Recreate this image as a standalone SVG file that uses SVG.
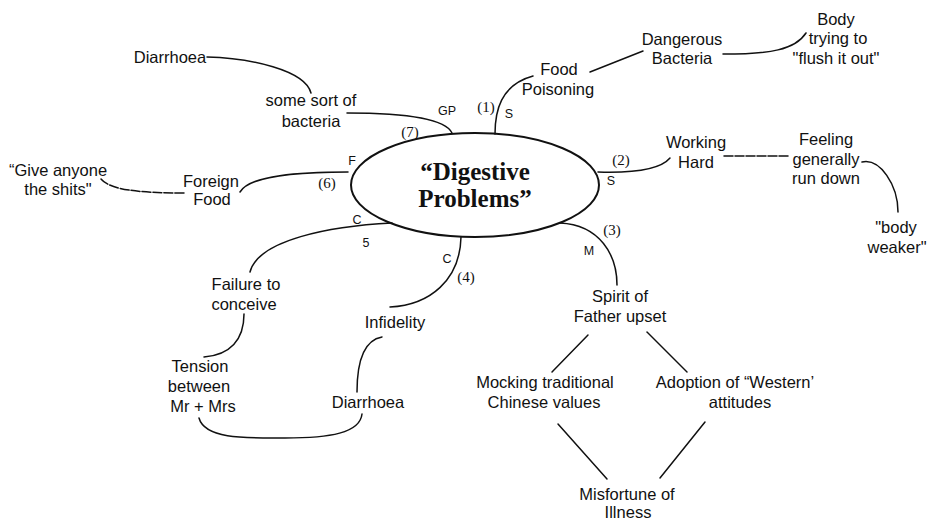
<svg xmlns="http://www.w3.org/2000/svg" width="928" height="521" viewBox="0 0 928 521">
<style>
text{font-family:"Liberation Sans",Arial,sans-serif;fill:#111;}
.n{font-size:16.5px;text-anchor:middle;}
.t{font-family:"Liberation Serif","Times New Roman",serif;font-size:25px;font-weight:bold;text-anchor:middle;}
.s{font-size:12.5px;text-anchor:middle;}
.p{font-family:"Liberation Serif","Times New Roman",serif;font-size:15px;text-anchor:middle;}
.c path{fill:none;stroke:#111;stroke-width:1.5;stroke-linecap:round;}
.d{stroke-dasharray:9 2;}
</style>
<rect width="928" height="521" fill="#fff"/>
<g id="connectors" class="c">
<path d="M207,57 C250,58 305,70 311,93"/>
<path d="M347,113 C400,113 445,118 452,133"/>
<path d="M495,134 C495,112 500,85 533,76"/>
<path d="M590,72 L643,51"/>
<path d="M723,54 C770,54 795,50 806,33"/>
<path d="M598,172 C630,173 660,170 670,158"/>
<path class="d" d="M724,156 L789,156"/>
<path d="M862,162 C880,158 898,185 898,212"/>
<path d="M348,172 C300,172 250,175 240,192"/>
<path class="d" d="M184,193 C140,193 110,190 101,179"/>
<path d="M392,223 C330,226 258,240 250,272"/>
<path d="M244,314 C244,340 230,355 204,357"/>
<path d="M199,418 C205,440 250,438 285,438 C330,438 360,433 362,414"/>
<path d="M382,337 C365,340 357,360 357,392"/>
<path d="M461,237 C460,280 430,305 390,307"/>
<path d="M560,223 C600,225 617,255 617,285"/>
<path d="M588,335 L552,372"/>
<path d="M647,332 L687,372"/>
<path d="M558,424 L607,479"/>
<path d="M705,422 L660,478"/>
</g>
<g id="edge-labels">
<text class="s" x="447" y="115">GP</text>
<text class="p" x="410" y="137">(7)</text>
<text class="p" x="486" y="112">(1)</text>
<text class="s" x="509" y="118">S</text>
<text class="p" x="621" y="165">(2)</text>
<text class="s" x="611" y="185">S</text>
<text class="s" x="352" y="165">F</text>
<text class="p" x="327" y="188">(6)</text>
<text class="s" x="357" y="224">C</text>
<text class="s" x="366" y="247">5</text>
<text class="s" x="447" y="263">C</text>
<text class="p" x="466" y="282">(4)</text>
<text class="p" x="612" y="235">(3)</text>
<text class="s" x="589" y="255">M</text>
</g>
<g id="center">
<ellipse cx="475" cy="185" rx="124" ry="52" fill="none" stroke="#111" stroke-width="2"/>
<text class="t" x="475" y="180">“Digestive</text>
<text class="t" x="475" y="207">Problems”</text>
</g>
<g id="diarrhoea-top"><text class="n" x="170" y="63">Diarrhoea</text></g>
<g id="bacteria"><text class="n" x="311" y="106">some sort of</text><text class="n" x="311" y="127">bacteria</text></g>
<g id="food-poisoning"><text class="n" x="559" y="75">Food</text><text class="n" x="558" y="95">Poisoning</text></g>
<g id="dangerous-bacteria"><text class="n" x="682" y="45">Dangerous</text><text class="n" x="682" y="64">Bacteria</text></g>
<g id="flush"><text class="n" x="836" y="25">Body</text><text class="n" x="838" y="44">trying to</text><text class="n" x="836" y="64">"flush it out"</text></g>
<g id="working-hard"><text class="n" x="696" y="148">Working</text><text class="n" x="696" y="168">Hard</text></g>
<g id="run-down"><text class="n" x="826" y="145">Feeling</text><text class="n" x="826" y="165">generally</text><text class="n" x="826" y="184">run down</text></g>
<g id="body-weaker"><text class="n" x="896" y="233">"body</text><text class="n" x="897" y="253">weaker"</text></g>
<g id="give-anyone"><text class="n" x="58" y="176">“Give anyone</text><text class="n" x="58" y="195">the shits"</text></g>
<g id="foreign-food"><text class="n" x="211" y="187">Foreign</text><text class="n" x="212" y="205">Food</text></g>
<g id="failure"><text class="n" x="246" y="290">Failure to</text><text class="n" x="244" y="310">conceive</text></g>
<g id="tension"><text class="n" x="200" y="372">Tension</text><text class="n" x="199" y="392">between</text><text class="n" x="203" y="412">Mr + Mrs</text></g>
<g id="infidelity"><text class="n" x="395" y="328">Infidelity</text></g>
<g id="diarrhoea-bottom"><text class="n" x="368" y="408">Diarrhoea</text></g>
<g id="spirit"><text class="n" x="620" y="302">Spirit of</text><text class="n" x="620" y="322">Father upset</text></g>
<g id="mocking"><text class="n" x="545" y="388">Mocking traditional</text><text class="n" x="544" y="408">Chinese values</text></g>
<g id="adoption"><text class="n" x="735" y="388">Adoption of “Western’</text><text class="n" x="740" y="408">attitudes</text></g>
<g id="misfortune"><text class="n" x="627" y="500">Misfortune of</text><text class="n" x="628" y="518">Illness</text></g>
</svg>
